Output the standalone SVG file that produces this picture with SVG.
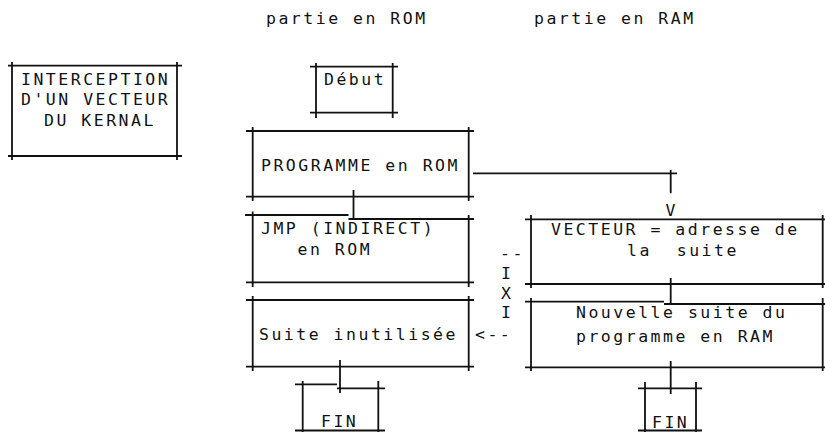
<svg xmlns="http://www.w3.org/2000/svg" width="825" height="432" viewBox="0 0 825 432">
  <style>
    .t { font-family: "DejaVu Sans Mono", "Liberation Mono", monospace; font-size: 16.5px; letter-spacing: 2.5px; fill: #111; white-space: pre; }
    .ln { stroke: #111; stroke-width: 1.8; fill: none; stroke-linecap: butt; }
  </style>
  <rect width="825" height="432" fill="#fff"/>

  <!-- column headings -->
  <g id="headings">
    <text class="t" x="266" y="24">partie en ROM</text>
    <text class="t" x="534" y="24">partie en RAM</text>
  </g>

  <!-- title box -->
  <g id="title">
    <path class="ln" d="M8 65.7H182 M8 156H182 M12 62V160 M177 62V160"/>
    <text class="t" x="21" y="85">INTERCEPTION</text>
    <text class="t" x="21" y="105">D'UN VECTEUR</text>
    <text class="t" x="44" y="126">DU KERNAL</text>
  </g>

  <!-- ROM side -->
  <g id="debut">
    <path class="ln" d="M310 66.7H398 M310 112.7H398 M316 63V118 M392.7 63V118"/>
    <text class="t" x="324" y="85">Début</text>
  </g>
  <g id="programme-rom">
    <path class="ln" d="M246 131H474 M246 196.7H474 M252.7 127V201 M468.7 127V201"/>
    <text class="t" x="261" y="171">PROGRAMME en ROM</text>
  </g>
  <g id="jmp-indirect">
    <path class="ln" d="M245 215H348.5 M348.5 219H474 M246 282.3H474 M252.7 211.5V287 M468.7 215V287"/>
    <text class="t" x="261" y="234">JMP (INDIRECT)</text>
    <text class="t" x="297.5" y="254.5">en ROM</text>
  </g>
  <g id="suite-inutilisee">
    <path class="ln" d="M246 300H474 M246 366.7H474 M252.7 296V371 M468.7 296V371"/>
    <text class="t" x="259" y="340">Suite inutilisée</text>
  </g>
  <g id="fin-rom">
    <path class="ln" d="M295 384.3H337 M337 388.3H385 M295 430.5H385 M302.7 381V432 M378.3 381V432"/>
    <text class="t" x="321" y="427">FIN</text>
  </g>

  <!-- RAM side -->
  <g id="vecteur">
    <path class="ln" d="M525 219.3H825 M525 284H825 M531 215V288 M822.7 215V288"/>
    <text class="t" x="551" y="234.5">VECTEUR = adresse de</text>
    <text class="t" x="627" y="255.7" xml:space="preserve">la  suite</text>
  </g>
  <g id="nouvelle-suite">
    <path class="ln" d="M525 301.7H664 M664 304H825 M525 367.3H825 M531 298V371 M822.7 298V371"/>
    <text class="t" x="576" y="318.3">Nouvelle suite du</text>
    <text class="t" x="576" y="341.7">programme en RAM</text>
  </g>
  <g id="fin-ram">
    <path class="ln" d="M638 388.3H702 M638 430.5H702 M645 382V432 M696 382V432"/>
    <text class="t" x="652" y="428.3">FIN</text>
  </g>

  <!-- connectors -->
  <g id="connectors">
    <path class="ln" d="M473 173.3H677 M670.7 170V193.3"/>
    <text class="t" x="665.5" y="216">V</text>
    <path class="ln" d="M353.5 190V220"/>
    <path class="ln" d="M670.7 278V305"/>
    <path class="ln" d="M670.7 361V394"/>
    <path class="ln" d="M340 360V393"/>
    <text class="t" x="500" y="259">--</text>
    <text class="t" x="501" y="279">I</text>
    <text class="t" x="501" y="298.5">X</text>
    <text class="t" x="501" y="318">I</text>
    <text class="t" x="475" y="340">&lt;--</text>
  </g>
</svg>
